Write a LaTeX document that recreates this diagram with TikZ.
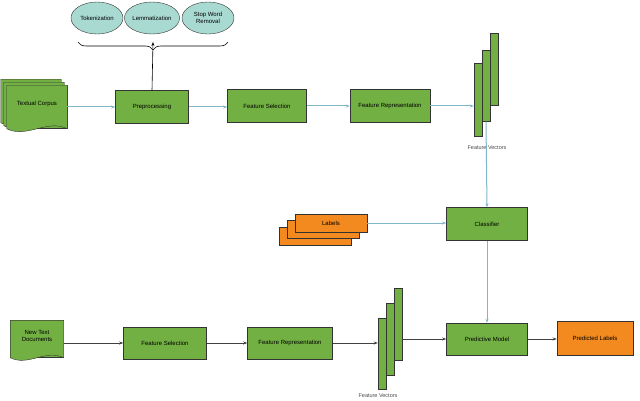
\documentclass[tikz,border=0pt]{standalone}
\usepackage{fontspec}
\setmainfont{Liberation Sans}
\usetikzlibrary{arrows.meta,decorations.pathreplacing,shapes.geometric}
\definecolor{boxgreen}{HTML}{72B043}
\definecolor{tealfill}{HTML}{A9DAD2}
\definecolor{orangefill}{HTML}{F28A1F}
\definecolor{linkblue}{HTML}{7FB6C8}
\begin{document}
\begin{tikzpicture}[x=1pt,y=-1pt,
    box/.style={rectangle, draw=black!80, fill=boxgreen, line width=0.5pt, font=\fontsize{6}{7}\selectfont, align=center},
    oval/.style={ellipse, draw=black!80, fill=tealfill, minimum width=52pt, minimum height=32pt, font=\fontsize{6}{7}\selectfont, align=center, inner sep=0pt},
    bar/.style={rectangle, draw=black!80, fill=boxgreen, minimum width=8pt, inner sep=0pt},
    lbl/.style={font=\fontsize{5.5}{6}\selectfont, text=black!70},
    topflow/.style={-{Stealth[length=4pt]}, draw=linkblue, line width=1pt},
    botflow/.style={-{Stealth[length=4pt]}, draw=black!75, line width=0.7pt}]
\useasboundingbox (0,0) rectangle (640,401);

% preprocessing steps
\node[oval] (tok) at (97,18) {Tokenization};
\node[oval] (lem) at (152,18) {Lemmatization};
\node[oval] (stop) at (208,18) {Stop Word\\Removal};
\draw[decorate, decoration={brace, amplitude=8pt}, line width=0.6pt] (228,42) -- coordinate[pos=0.5] (bt) (78,42);

% top row
\node[box, minimum width=60pt, minimum height=43pt] (corpus) at (37,107) {};
\foreach \d in {6,3,0}{
  \draw[draw=black!80, fill=boxgreen]
    ([xshift=-\d pt, yshift=\d pt]corpus.north west) -- ([xshift=-\d pt, yshift=\d pt]corpus.north east)
    -- ([xshift=-\d pt, yshift=\d pt]corpus.south east)
    .. controls ([xshift=-\d pt-20pt, yshift=\d pt+10pt]corpus.south east) and ([xshift=-\d pt+20pt, yshift=\d pt-10pt]corpus.south west) .. ([xshift=-\d pt, yshift=\d pt]corpus.south west) -- cycle;
}
\node[font=\fontsize{6}{7}\selectfont] at (37,104) {Textual Corpus};
\node[box, minimum width=73pt, minimum height=33pt] (pre) at (152,107) {Preprocessing};
\node[box, minimum width=79pt, minimum height=33pt] (fs1) at (267,106) {Feature Selection};
\node[box, minimum width=80pt, minimum height=33pt] (fr1) at (390,106) {Feature Representation};
\node[bar, minimum height=73pt] (v1a) at (478,100) {};
\node[bar, minimum height=71pt] (v1b) at (486,86) {};
\node[bar, minimum height=72pt] (v1c) at (494,69) {};
\node[lbl] (vl1) at (487,148) {Feature Vectors};

\draw[-{Stealth[length=4pt]}, line width=0.6pt] (pre.north) -- (bt);
\draw[topflow] (corpus.east |- pre) -- (pre.west);
\draw[topflow] (pre.east) -- (fs1.west |- pre.east);
\draw[topflow] (fs1.east) -- (fr1.west);
\draw[topflow] (fr1.east) -- (v1a.west |- fr1.east);

% classifier
\node[box, minimum width=81pt, minimum height=33pt] (cls) at (487,224) {Classifier};
\node[rectangle, draw=black!80, fill=orangefill, minimum width=72pt, minimum height=18pt, font=\fontsize{6}{7}\selectfont] (lab) at (331,223) {};
\draw[draw=black!80, fill=orangefill] ([xshift=-16pt,yshift=-13pt]lab.south west) rectangle ([xshift=-16pt,yshift=-13pt]lab.north east);
\draw[draw=black!80, fill=orangefill] ([xshift=-8pt,yshift=-6pt]lab.south west) rectangle ([xshift=-8pt,yshift=-6pt]lab.north east);
\draw[draw=black!80, fill=orangefill] (lab.south west) rectangle (lab.north east);
\node[font=\fontsize{6}{7}\selectfont] at (lab) {Labels};
\draw[topflow] (v1b.south) -- (cls.north);
\draw[topflow] (lab.east) -- (cls.west |- lab.east);

% bottom row
\node[box, minimum width=53pt, minimum height=37pt] (new) at (37,339) {};
\draw[draw=black!80, fill=boxgreen] (new.north west) -- (new.north east) -- (new.south east)
  .. controls ([xshift=-18pt,yshift=9pt]new.south east) and ([xshift=18pt,yshift=-9pt]new.south west) .. (new.south west) -- cycle;
\node[font=\fontsize{6}{7}\selectfont, align=center] at (37,336) {New Text\\Documents};
\node[box, minimum width=83pt, minimum height=32pt] (fs2) at (165,343) {Feature Selection};
\node[box, minimum width=85pt, minimum height=32pt] (fr2) at (290,343) {Feature Representation};
\node[bar, minimum height=71pt] (v2a) at (382,354) {};
\node[bar, minimum height=72pt] (v2b) at (390,339) {};
\node[bar, minimum height=72pt] (v2c) at (398,324) {};
\node[lbl] (vl2) at (378,396) {Feature Vectors};
\node[box, minimum width=81pt, minimum height=32pt] (pm) at (487,339) {Predictive Model};
\node[box, fill=orangefill, minimum width=76pt, minimum height=34pt] (pl) at (595,338) {Predicted Labels};

\draw[topflow] (cls.south) -- (pm.north);
\draw[botflow] (new.east |- fs2) -- (fs2.west);
\draw[botflow] (fs2.east) -- (fr2.west);
\draw[botflow] (fr2.east) -- (v2a.west |- fr2.east);
\draw[botflow] (v2c.east |- pm.west) -- (pm.west);
\draw[botflow] (pm.east) -- (pl.west |- pm.east);
\end{tikzpicture}
\end{document}
